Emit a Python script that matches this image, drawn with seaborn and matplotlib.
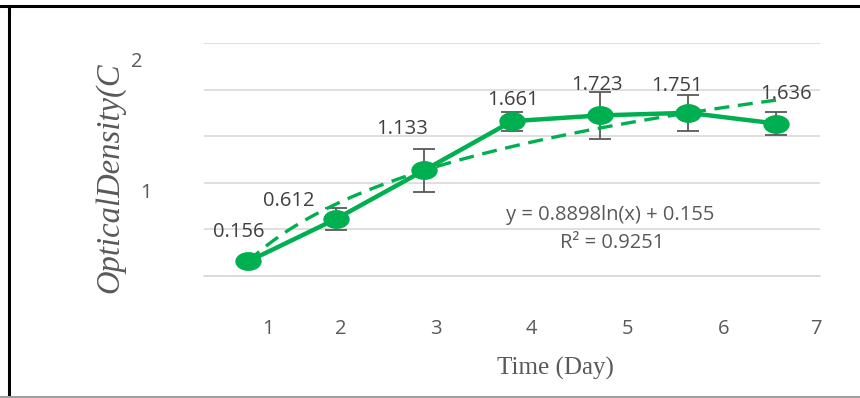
import numpy as np
import pandas as pd
import matplotlib
matplotlib.use("Agg")
import matplotlib.pyplot as plt
from matplotlib.path import Path
from matplotlib.transforms import Affine2D
from matplotlib.lines import Line2D
import seaborn as sns

# ---- data ----
days = [1, 2, 3, 4, 5, 6, 7]
od = [0.156, 0.612, 1.133, 1.661, 1.723, 1.751, 1.636]
od_err = [0.03, 0.12, 0.23, 0.10, 0.25, 0.19, 0.12]
od_labels = ["0.156", "0.612", "1.133", "1.661", "1.723", "1.751", "1.636"]
label_offsets = [(-7, 21), (-34, 13), (-16, 30), (1, 15), (-2, 22), (-8, 19), (7, 21)]
xtick_labels = ["1", "2", "3", "4", "5", "6", "7"]
xtick_pos = [1.23, 2.05, 3.14, 4.22, 5.31, 6.40, 7.45]
ytick_labels = ["1", "2"]
ytick_pos = [0.89, 2.30]
ytick_xfrac = [-0.094, -0.109]
eq_text = "y = 0.8898ln(x) + 0.155"
r2_text = "R² = 0.9251"

GREEN = "#00B050"
GRAY = "#595959"
GRID = "#D9D9D9"
FS = 14.5

sns.set_theme(style="white")
plt.rcParams['font.family'] = ['Open Sans', 'DejaVu Sans']

df = pd.DataFrame({"day": days, "od": od, "err": od_err})

fig = plt.figure(figsize=(8.6, 3.98), dpi=100)
ax = fig.add_axes([204/860, 1-276/398, 616/860, 233/398])

# elliptical marker
ell = Path.unit_circle().transformed(Affine2D().scale(1.4, 1.0))

ax.errorbar(df["day"], df["od"], yerr=df["err"], fmt="none", ecolor=GRAY,
            elinewidth=1.3, capsize=8, capthick=1.3, zorder=2)
sns.regplot(data=df, x="day", y="od", logx=True, ci=None, scatter=False, ax=ax,
            line_kws=dict(color=GREEN, lw=2.4, ls=(0, (4.5, 2.6)), zorder=3))
sns.lineplot(data=df, x="day", y="od", ax=ax, color=GREEN, lw=3.2,
             marker=ell, markersize=19, markeredgewidth=0, zorder=4)

for d, v, lab, off in zip(days, od, od_labels, label_offsets):
    ax.annotate(lab, (d, v), xytext=off, textcoords="offset points",
                ha="center", va="center", fontsize=FS, color="#404040", zorder=5)

ax.text(0.66, 0.262, eq_text, transform=ax.transAxes, ha="center", va="center",
        fontsize=FS, color=GRAY)
ax.text(0.663, 0.142, r2_text, transform=ax.transAxes, ha="center", va="center",
        fontsize=FS, color=GRAY)

ax.set_xlim(0.5, 7.5)
ax.set_ylim(0, 2.5)
ax.set_yticks(np.arange(0, 2.51, 0.5))
ax.set_yticklabels([])
ax.tick_params(axis="y", length=0)
ax.grid(axis="y", color=GRID, lw=1.2)
ax.set_axisbelow(True)

ax.set_xticks(np.arange(0.5, 7.6, 1.0))
ax.set_xticklabels([])
ax.tick_params(axis="x", which="major", length=6, width=1.2, color=GRID, direction="out")
ax.set_xticks(xtick_pos, xtick_labels, minor=True)
ax.tick_params(axis="x", which="minor", length=0, pad=31, labelsize=FS, labelcolor=GRAY)

for yp, lab, xf in zip(ytick_pos, ytick_labels, ytick_xfrac):
    ax.text(xf, yp, lab, transform=ax.get_yaxis_transform(), ha="center", va="center",
            fontsize=FS, color=GRAY)

for s in ["top", "right", "left"]:
    ax.spines[s].set_visible(False)
ax.spines["bottom"].set_color(GRID)
ax.spines["bottom"].set_linewidth(1.2)

ax.set_xlabel("Time (Day)", fontsize=18, color=GRAY, family="Liberation Serif")
ax.xaxis.set_label_coords((555-204)/616, (276-368)/233)
ax.xaxis.label.set_va("center")
ax.set_ylabel("OpticalDensity(C", fontsize=23.5, color=GRAY, family="Liberation Serif",
              style="italic")
ax.yaxis.set_label_coords((110-204)/616, (276-178)/233)
ax.yaxis.label.set_va("center")

# outer frame
fig.add_artist(Line2D([0, 1], [1-5.5/398]*2, color="black", lw=2.2, transform=fig.transFigure))
fig.add_artist(Line2D([8.5/860]*2, [0, 1-5.5/398], color="black", lw=2.2, transform=fig.transFigure))
fig.add_artist(Line2D([0, 1], [1.5/398]*2, color="#A0A0A0", lw=1.5, transform=fig.transFigure))

fig.savefig("out.png", dpi=100)
